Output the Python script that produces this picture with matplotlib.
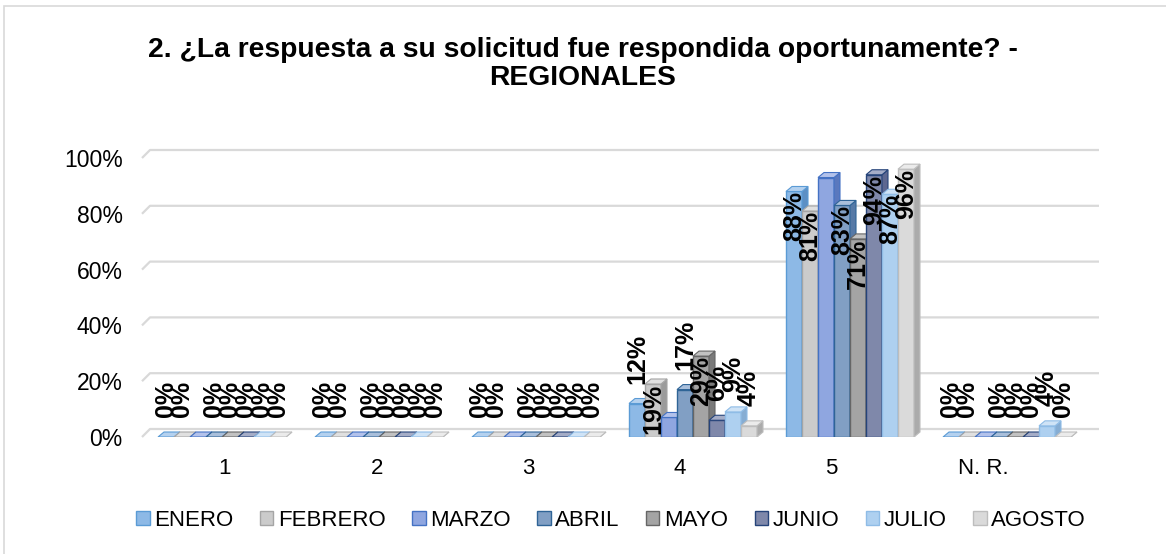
import matplotlib

matplotlib.use("Agg")
import matplotlib.pyplot as plt
from matplotlib.patches import Patch, Polygon, Rectangle
import numpy as np

plt.rcParams["font.family"] = ["Liberation Sans", "DejaVu Sans"]

TITLE = "2. ¿La respuesta a su solicitud fue respondida oportunamente? -\nREGIONALES"
categories = ["1", "2", "3", "4", "5", "N. R."]
months = ["ENERO", "FEBRERO", "MARZO", "ABRIL", "MAYO", "JUNIO", "JULIO", "AGOSTO"]

enero = [0, 0, 0, 12, 88, 0]
febrero = [0, 0, 0, 19, 81, 0]
marzo = [0, 0, 0, 7, 93, 0]
abril = [0, 0, 0, 17, 83, 0]
mayo = [0, 0, 0, 29, 71, 0]
junio = [0, 0, 0, 6, 94, 0]
julio = [0, 0, 0, 9, 87, 4]
agosto = [0, 0, 0, 4, 96, 0]
series = [enero, febrero, marzo, abril, mayo, junio, julio, agosto]
show_labels = [True, True, False, True, True, True, True, True]

# (front, edge, side, top)
COLORS = [
    ("#8DB9E6", "#5B9BD5", "#5C8FC4", "#B4D1EF"),
    ("#CBCBCB", "#A5A5A5", "#9B9B9B", "#E0E0E0"),
    ("#8FA6E0", "#4472C4", "#5A78BE", "#B3C2EB"),
    ("#819FC4", "#2F6496", "#5679A6", "#A9BFDB"),
    ("#A4A4A4", "#666666", "#7A7A7A", "#C2C2C2"),
    ("#7F88AA", "#26447A", "#5D6790", "#A5ADC7"),
    ("#AED0F0", "#8FBCE6", "#86ADD3", "#CFE3F6"),
    ("#DADADA", "#BDBDBD", "#ABABAB", "#EBEBEB"),
]
GRID = "#D9D9D9"

W_PX, H_PX, DPI = 1166, 554, 100
fig = plt.figure(figsize=(W_PX / DPI, H_PX / DPI), dpi=DPI)

# front plane of the 3D box, in pixels
left_px, right_px, floor_px, top_px = 142, 1091, 437, 158
cat_px, first_px = 157, 222
ax = fig.add_axes([left_px / W_PX, 1 - floor_px / H_PX,
                   (right_px - left_px) / W_PX, (floor_px - top_px) / H_PX])
ax.set_xlim((left_px - first_px) / cat_px, (right_px - first_px) / cat_px)
ax.set_ylim(0, 100)
for s in ax.spines.values():
    s.set_visible(False)

ux = cat_px                      # px per x unit
uy = (floor_px - top_px) / 100   # px per %
bar_w = 16 / ux
dx, dy = 6 / ux, 5 / uy          # bar depth
wx, wy = 8 / ux, 8 / uy          # back wall offset

# back-wall gridlines with the slanted left edge
x0, x1 = ax.get_xlim()
for g in range(0, 101, 20):
    ax.plot([x0, x0 + wx, x1 + wx], [g, g + wy, g + wy], color=GRID, lw=1.6,
            clip_on=False, zorder=0, solid_capstyle="butt")

x = np.arange(len(categories))
n = len(series)
label_len = 17  # data-label length in % units
for j, (vals, (fc, ec, sc, tc)) in enumerate(zip(series, COLORS)):
    xs = x + (j - (n - 1) / 2) * bar_w
    z = 2 + j
    bars = ax.bar(xs, vals, bar_w, color=fc, edgecolor=ec, linewidth=1.0, zorder=z)
    for b, v in zip(bars, vals):
        bx, bw = b.get_x(), b.get_width()
        side = Polygon([(bx + bw, 0), (bx + bw + dx, dy), (bx + bw + dx, v + dy), (bx + bw, v)],
                       closed=True, facecolor=sc, edgecolor=ec, lw=0.8, zorder=z)
        top = Polygon([(bx, v), (bx + dx, v + dy), (bx + bw + dx, v + dy), (bx + bw, v)],
                      closed=True, facecolor=tc, edgecolor=ec, lw=0.8, zorder=z)
        ax.add_patch(side)
        ax.add_patch(top)
        if not show_labels[j]:
            continue
        cx = bx + bw / 2
        if v >= label_len + 1:
            ax.text(cx, v, f"{v}%", rotation=90, ha="center", va="top",
                    fontsize=18, fontweight="bold", zorder=30)
        else:
            ax.text(cx, v + 7, f"{v}%", rotation=90, ha="center", va="bottom",
                    fontsize=18, fontweight="bold", zorder=30)

tick_scale = 151.6 / cat_px
ax.set_xticks(x * tick_scale + 3 / cat_px)
ax.set_xticklabels(categories, fontsize=16)
ax.set_yticks(range(0, 101, 20))
ax.set_yticklabels([f"{g}%" for g in range(0, 101, 20)], fontsize=16.5)
ax.tick_params(axis="x", length=0, pad=15)
ax.tick_params(axis="y", length=0, pad=14)

fig.text(0.5, 1 - 64 / H_PX, TITLE, ha="center", va="center", fontsize=20.3,
         fontweight="bold", linespacing=1.1)

handles = [Patch(facecolor=c[0], edgecolor=c[1], linewidth=1.0) for c in COLORS]
fig.legend(handles, months, loc="center", bbox_to_anchor=(611 / W_PX, 1 - 520 / H_PX),
           ncol=8, frameon=False, fontsize=16, handlelength=0.6, handleheight=0.6,
           handletextpad=0.2, columnspacing=1.2)

fig.add_artist(Rectangle((4 / W_PX, -0.1), 1.2, 1.1 - 6 / H_PX, transform=fig.transFigure,
                         fill=False, edgecolor=GRID, lw=1.2))

fig.savefig("out.png", dpi=DPI)
